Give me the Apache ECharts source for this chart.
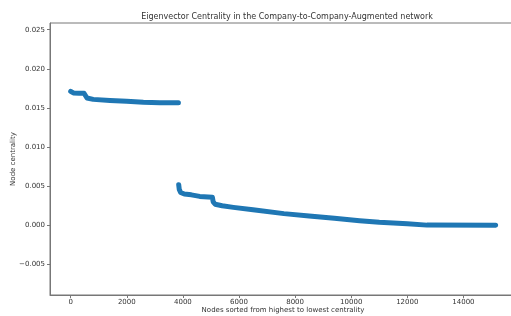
<!DOCTYPE html>
<html>
<head>
    <meta charset="utf-8">
    <title>Eigenvector Centrality</title>
    <script src="https://cdn.jsdelivr.net/npm/echarts@6/dist/echarts.min.js"></script>
    <style type="text/css">
        html, body { margin: 0; padding: 0; background: #fff; }
        #main { width: 511px; height: 316px; }
    </style>
</head>
<body>
<div id="main"></div>
<script type="text/javascript">
    // first block of nodes (high centrality)
    var nodesA = [0, 95, 300, 475, 580, 805, 1400, 1995, 2590, 3180, 3840];
    var centralityA = [0.01713, 0.01692, 0.01689, 0.01688, 0.01628, 0.01610, 0.01597, 0.01585, 0.01572, 0.01568, 0.01568];

    // second block (after the drop)
    var nodesB = [3850, 3870, 3920, 4050, 4300, 4600, 5050, 5080, 5150, 5400, 5800, 6500, 7600, 8500, 9400, 10300, 11000, 12000, 12700, 15150];
    var centralityB = [0.0052, 0.0046, 0.0042, 0.0040, 0.0039, 0.0037, 0.0036, 0.0030, 0.0027, 0.0025, 0.0023, 0.0020, 0.0015, 0.0012, 0.0009, 0.0006, 0.0004, 0.0002, 0.00003, 0.0];

    function pairs(xs, ys) {
        var out = [];
        for (var i = 0; i < xs.length; i++) out.push([xs[i], ys[i]]);
        return out;
    }

    var textColor = '#333';
    var axisColor = '#777';
    var blue = '#1f77b4';

    var chart = echarts.init(document.getElementById('main'));
    chart.setOption({
        animation: false,
        textStyle: {fontFamily: 'DejaVu Sans'},
        title: {
            text: 'Eigenvector Centrality in the Company-to-Company-Augmented network',
            left: 282,
            textAlign: 'center',
            top: 8,
            textStyle: {fontSize: 8, fontWeight: 'normal', color: textColor, fontFamily: 'DejaVu Sans'}
        },
        grid: {
            left: 50, right: -5, top: 23, bottom: 21,
            outerBoundsMode: 'none',
            containLabel: false,
            show: true, borderColor: axisColor, borderWidth: 1
        },
        xAxis: {
            type: 'value',
            min: -738,
            max: 15875,
            splitNumber: 8,
            name: 'Nodes sorted from highest to lowest centrality',
            nameLocation: 'middle',
            nameGap: 12,
            nameMoveOverlap: false,
            nameTextStyle: {fontSize: 7, color: textColor, verticalAlign: 'top'},
            axisLine: {show: true, onZero: false, lineStyle: {color: axisColor}},
            axisTick: {show: true, length: 3, lineStyle: {color: axisColor}},
            axisLabel: {
                fontSize: 7, color: textColor, margin: 4,
                showMinLabel: false, showMaxLabel: false,
                formatter: function (v) { return String(v); }
            },
            splitLine: {show: false}
        },
        yAxis: {
            type: 'value',
            min: -0.0089,
            max: 0.02586,
            splitNumber: 7,
            name: 'Node centrality',
            nameLocation: 'middle',
            nameGap: 33,
            nameMoveOverlap: false,
            nameTextStyle: {fontSize: 7, color: textColor},
            axisLine: {show: true, onZero: false, lineStyle: {color: axisColor}},
            axisTick: {show: true, length: 3, lineStyle: {color: axisColor}},
            axisLabel: {
                fontSize: 7, color: textColor, margin: 5,
                showMinLabel: false, showMaxLabel: false,
                formatter: function (v) {
                    var s = Math.abs(v).toFixed(3);
                    return v < -1e-9 ? '\u2212' + s : s;
                }
            },
            splitLine: {show: false}
        },
        series: [
            {
                type: 'line',
                data: pairs(nodesA, centralityA),
                showSymbol: false,
                lineStyle: {color: blue, width: 5, cap: 'round', join: 'round'}
            },
            {
                type: 'line',
                data: pairs(nodesB, centralityB),
                showSymbol: false,
                lineStyle: {color: blue, width: 5, cap: 'round', join: 'round'}
            }
        ]
    });
</script>
</body>
</html>
